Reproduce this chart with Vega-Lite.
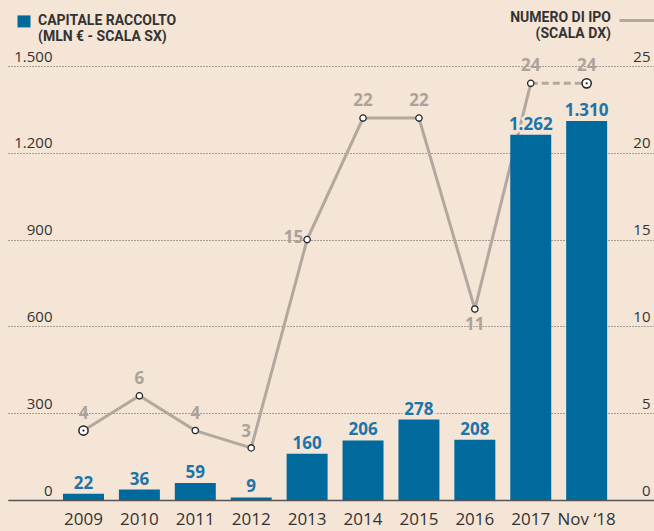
{
  "$schema": "https://vega.github.io/schema/vega-lite/v6.json",
  "autosize": {"type": "none"},
  "width": 646,
  "height": 434,
  "padding": {"left": 8, "top": 66, "right": 0, "bottom": 31},
  "background": "#f5e5d6",
  "config": {
    "view": {"stroke": null},
    "font": "Open Sans",
    "locale": {"number": {"decimal": ",", "thousands": ".", "grouping": [3], "currency": ["€", ""]}}
  },
  "data": {"values": [
    {"anno": "2009", "capitale": 22, "ipo": 4},
    {"anno": "2010", "capitale": 36, "ipo": 6},
    {"anno": "2011", "capitale": 59, "ipo": 4},
    {"anno": "2012", "capitale": 9, "ipo": 3},
    {"anno": "2013", "capitale": 160, "ipo": 15},
    {"anno": "2014", "capitale": 206, "ipo": 22},
    {"anno": "2015", "capitale": 278, "ipo": 22},
    {"anno": "2016", "capitale": 208, "ipo": 11},
    {"anno": "2017", "capitale": 1262, "ipo": 24},
    {"anno": "Nov ‘18", "capitale": 1310, "ipo": 24}
  ]},
  "encoding": {
    "x": {
      "field": "anno", "type": "nominal", "sort": null,
      "scale": {"paddingInner": 0.267, "paddingOuter": 0.911, "align": 0.54},
      "axis": {"title": null, "ticks": false, "domainColor": "#555", "domainWidth": 1.5, "labelAngle": 0, "labelFontSize": 17, "labelColor": "#333", "labelPadding": 11, "labelBaseline": "top", "grid": false}
    }
  },
  "layer": [
    {
      "encoding": {
        "y": {"field": "ipo", "type": "quantitative",
          "scale": {"domain": [0, 25], "nice": false},
          "axis": {"orient": "right", "values": [0, 5, 10, 15, 20, 25], "title": null, "ticks": false, "domain": false, "grid": false, "labelAlign": "right", "labelPadding": -4, "labelBaseline": "alphabetic", "labelOffset": -5, "labelFontSize": 15, "labelColor": "#333"}}
      },
      "layer": [
        {
          "transform": [{"filter": {"not": {"field": "anno", "equal": "Nov ‘18"}}}],
          "mark": {"type": "line", "strokeWidth": 3},
          "encoding": {
            "stroke": {"datum": "NUMERO DI IPO", "scale": {"range": ["#b2a89f"]},
              "legend": {"orient": "none", "legendX": 610, "legendY": -63.5, "title": null, "padding": 0,
                "symbolType": "M-1,-0.08H1", "symbolSize": 1296, "symbolStrokeWidth": 3,
                "labelExpr": "['NUMERO DI IPO', '(SCALA DX)']", "labelAlign": "right", "labelOffset": -46,
                "labelFont": "Roboto", "labelFontWeight": "bold", "labelFontSize": 14, "labelColor": "#333", "labelBaseline": "alphabetic", "labelLimit": 300}}
          }
        },
        {
          "transform": [{"filter": {"field": "anno", "oneOf": ["2017", "Nov ‘18"]}}],
          "mark": {"type": "line", "strokeWidth": 3, "strokeDash": [7, 4], "color": "#b2a89f"},
          "encoding": {}
        }
      ]
    },
    {
      "encoding": {
        "y": {"field": "capitale", "type": "quantitative",
          "scale": {"domain": [0, 1500], "nice": false},
          "axis": {"orient": "left", "values": [0, 300, 600, 900, 1200, 1500], "format": ",d", "title": null, "ticks": false, "domain": false, "grid": true, "gridColor": "#555", "gridDash": [1, 2], "gridWidth": 1, "labelAlign": "right", "labelPadding": -44, "labelBaseline": "alphabetic", "labelOffset": -5, "labelFontSize": 15, "labelColor": "#333"}}
      },
      "layer": [
        {
          "mark": {"type": "bar"},
          "encoding": {
            "color": {"datum": "CAPITALE RACCOLTO", "scale": {"range": ["#006a9c"]},
              "legend": {"orient": "none", "legendX": 9, "legendY": -48.5, "title": null, "padding": 0,
                "symbolType": "M-1,-1.4H1V0.45H-1Z", "symbolSize": 169, "symbolStrokeWidth": 0,
                "labelExpr": "['CAPITALE RACCOLTO', '(MLN € - SCALA SX)']", "labelOffset": 7,
                "labelFont": "Roboto", "labelFontWeight": "bold", "labelFontSize": 14, "labelColor": "#333", "labelBaseline": "alphabetic", "labelLimit": 300}}
          }
        },
        {
          "mark": {"type": "text", "baseline": "alphabetic", "dy": -5, "fontSize": 17, "fontWeight": "bold", "fill": "#f5e5d6", "stroke": "#f5e5d6", "strokeWidth": 5},
          "encoding": {"text": {"field": "capitale", "format": ",d"}}
        },
        {
          "mark": {"type": "text", "baseline": "alphabetic", "dy": -5, "fontSize": 17, "fontWeight": "bold", "color": "#1d74a8"},
          "encoding": {"text": {"field": "capitale", "format": ",d"}}
        }
      ]
    },
    {
      "encoding": {
        "y": {"field": "ipo", "type": "quantitative", "scale": {"domain": [0, 25], "nice": false}, "axis": null}
      },
      "layer": [
        {
          "transform": [{"filter": {"not": {"field": "anno", "oneOf": ["2009", "Nov ‘18"]}}}],
          "mark": {"type": "point", "shape": "circle", "size": 40, "filled": true, "fill": "#ffffff", "stroke": "#222", "strokeWidth": 1.3, "opacity": 1},
          "encoding": {}
        },
        {
          "transform": [{"filter": {"field": "anno", "oneOf": ["2009", "Nov ‘18"]}}],
          "mark": {"type": "point", "shape": "circle", "size": 85, "filled": true, "fill": "#ffffff", "stroke": "#222", "strokeWidth": 1.5, "opacity": 1},
          "encoding": {}
        },
        {
          "transform": [{"filter": {"field": "anno", "oneOf": ["2009", "Nov ‘18"]}}],
          "mark": {"type": "point", "shape": "circle", "size": 5, "filled": true, "fill": "#222", "opacity": 1},
          "encoding": {}
        },
        {
          "transform": [{"filter": {"not": {"field": "anno", "oneOf": ["2012", "2013", "2016"]}}}],
          "mark": {"type": "text", "baseline": "alphabetic", "dy": -12, "fontSize": 17, "fontWeight": "bold", "color": "#aca299"},
          "encoding": {"text": {"field": "ipo"}}
        },
        {
          "transform": [{"filter": {"field": "anno", "equal": "2012"}}],
          "mark": {"type": "text", "baseline": "alphabetic", "dx": -5, "dy": -11, "fontSize": 17, "fontWeight": "bold", "color": "#aca299"},
          "encoding": {"text": {"field": "ipo"}}
        },
        {
          "transform": [{"filter": {"field": "anno", "equal": "2013"}}],
          "mark": {"type": "text", "baseline": "middle", "align": "right", "dx": -4, "dy": -2, "fontSize": 17, "fontWeight": "bold", "color": "#aca299"},
          "encoding": {"text": {"field": "ipo"}}
        },
        {
          "transform": [{"filter": {"field": "anno", "equal": "2016"}}],
          "mark": {"type": "text", "baseline": "top", "dy": 8, "fontSize": 17, "fontWeight": "bold", "color": "#aca299"},
          "encoding": {"text": {"field": "ipo"}}
        }
      ]
    }
  ],
  "resolve": {"scale": {"y": "independent"}}
}
